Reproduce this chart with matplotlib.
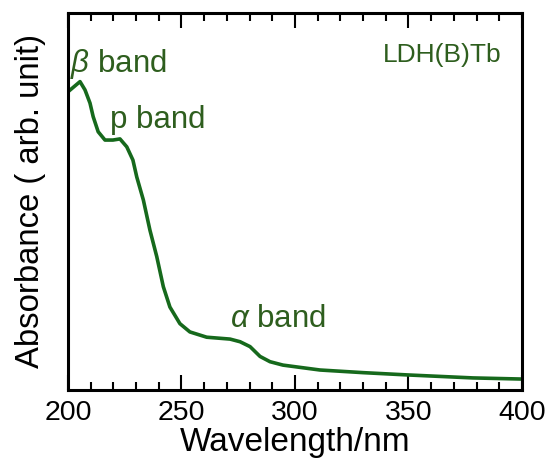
import matplotlib
matplotlib.use("Agg")
import matplotlib.pyplot as plt

plt.rcParams['font.family'] = ['Liberation Sans', 'DejaVu Sans']
plt.rcParams['mathtext.fontset'] = 'custom'
plt.rcParams['mathtext.it'] = 'Liberation Sans:italic'
plt.rcParams['mathtext.rm'] = 'Liberation Sans'

# UV-vis spectrum (absorbance in arbitrary units)
wl = [200, 205.3, 207.5, 209.7, 211.1, 213.3, 216.3, 219.8, 222.9, 225.9, 228.6, 230.3,
      233.2, 236.1, 239.1, 242.0, 244.9, 249.3, 253.7, 261.1, 271.4, 275.8, 280.2, 284.6,
      289.0, 294.7, 302.2, 311.0, 330, 349.3, 378.4, 400]
absb = [0.791, 0.818, 0.796, 0.761, 0.725, 0.685, 0.663, 0.663, 0.666, 0.645, 0.610, 0.565,
        0.504, 0.424, 0.354, 0.274, 0.220, 0.176, 0.154, 0.140, 0.135, 0.128, 0.115, 0.089,
        0.075, 0.066, 0.060, 0.053, 0.046, 0.040, 0.032, 0.029]

labels = ["$\\beta$ band", "p band", "$\\alpha$ band"]
label_x = [200.9, 218.5, 271.4]
label_y = [0.843, 0.695, 0.167]

line_col = "#16691c"
text_col = "#2e5e1e"

fig = plt.figure(figsize=(5.5, 4.63), dpi=100)
ax = fig.add_axes([0.1236, 0.1577, 0.8255, 0.8142])

ax.plot(wl, absb, color=line_col, lw=2.6, solid_joinstyle='round')

for s, x, y in zip(labels, label_x, label_y):
    ax.text(x, y, s, color=text_col, fontsize=22.5, ha='left', va='baseline')
ax.text(391, 0.870, "LDH(B)Tb", color=text_col, fontsize=19, ha='right', va='baseline')

ax.set_xlim(200, 400)
ax.set_ylim(0, 1)
ax.set_xticks([200, 250, 300, 350, 400])
ax.set_xticks(range(200, 401, 10), minor=True)
ax.set_yticks([])
ax.tick_params(axis='x', which='both', direction='in', top=True, bottom=True, width=1.5)
ax.tick_params(axis='x', which='major', length=11, labelsize=20.5, pad=7)
ax.tick_params(axis='x', which='minor', length=6)
for sp in ax.spines.values():
    sp.set_linewidth(2.2)

ax.set_xlabel("Wavelength/nm", fontsize=24, labelpad=1)
ax.set_ylabel("Absorbance ( arb. unit)", fontsize=23.7, labelpad=16)

fig.savefig("out.png", dpi=100)
